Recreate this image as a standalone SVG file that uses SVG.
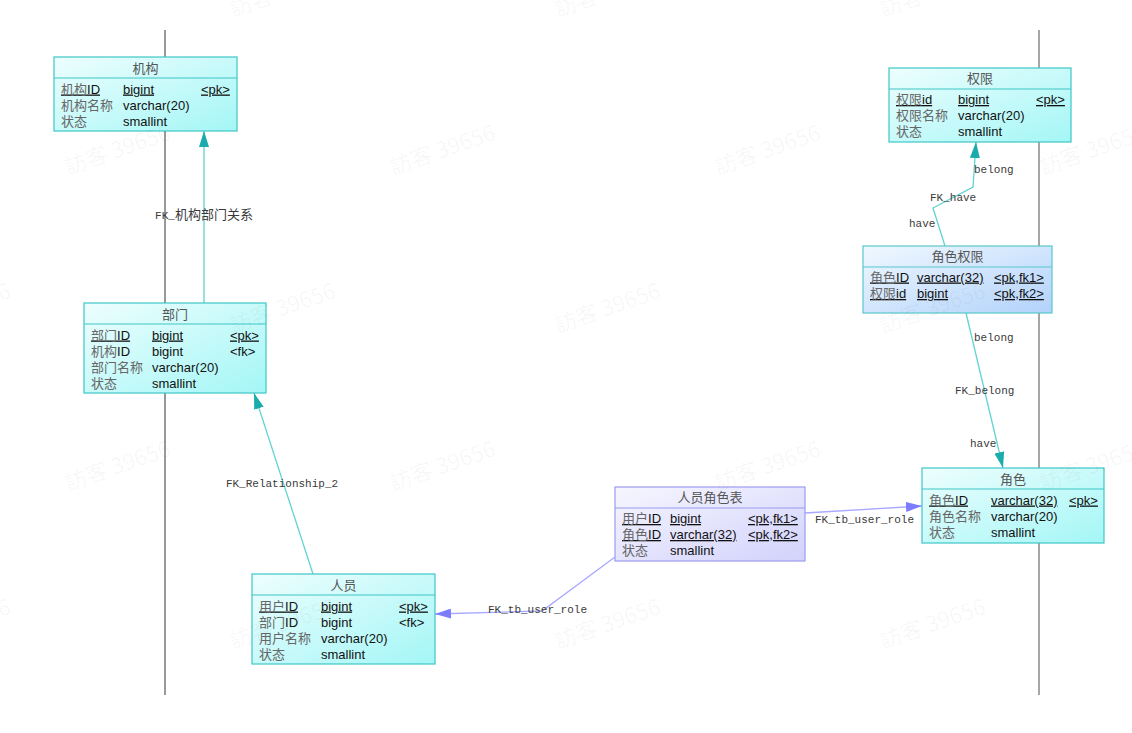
<svg xmlns="http://www.w3.org/2000/svg" width="1132" height="733" viewBox="0 0 1132 733">
<style>
.t{font-family:"Liberation Sans","Noto Sans CJK SC",sans-serif;font-size:13px;fill:#111}
.cn{fill:#666}
.ttl{font-family:"Noto Sans CJK SC",sans-serif;font-size:13px;fill:#555;text-anchor:middle}
.u{text-decoration:underline}
.lbl{font-family:"Liberation Mono","Noto Sans CJK SC",monospace;font-size:11px;fill:#3a3a3a}
.lc{font-size:13px}
.wm{font-family:"Noto Sans CJK SC",sans-serif;font-size:22px;fill:#000;fill-opacity:0.04}
.cy{fill:url(#gc);stroke:#3fc6c6;stroke-width:1.2}
.lv{fill:url(#gl);stroke:#9c9cee;stroke-width:1.2}
.bl{fill:url(#gb);stroke:#58c8cc;stroke-width:1.2}
.hc{stroke:#3fc6c6;stroke-width:1.2}
.hl{stroke:#9c9cee;stroke-width:1.2}
.hb{stroke:#58c8cc;stroke-width:1.2}
.ct{fill:none;stroke:#62d2d2;stroke-width:1.3}
.cl{fill:none;stroke:#a8a8ff;stroke-width:1.3}
</style>
<defs>
<linearGradient id="gc" x1="0" y1="0" x2="1" y2="1"><stop offset="0" stop-color="#eefefe"/><stop offset="1" stop-color="#a4f6f6"/></linearGradient>
<linearGradient id="gl" x1="0" y1="0" x2="1" y2="1"><stop offset="0" stop-color="#f6f6ff"/><stop offset="1" stop-color="#d2d2fc"/></linearGradient>
<linearGradient id="gb" x1="0" y1="0" x2="1" y2="1"><stop offset="0" stop-color="#f0f8ff"/><stop offset="1" stop-color="#b2d2fa"/></linearGradient>
<marker id="at" markerWidth="16" markerHeight="10" refX="16" refY="5" orient="auto" markerUnits="userSpaceOnUse"><path d="M0,0 L16,5 L0,10 z" fill="#1aacac"/></marker>
<marker id="al" markerWidth="16" markerHeight="10" refX="16" refY="5" orient="auto" markerUnits="userSpaceOnUse"><path d="M0,0 L16,5 L0,10 z" fill="#7c7cff"/></marker>
</defs>
<rect width="1132" height="733" fill="#fff"/>
<g id="swimlanes">
<line x1="165" y1="30" x2="165" y2="695" stroke="#333" stroke-width="1"/>
<line x1="1039" y1="30" x2="1039" y2="695" stroke="#888" stroke-width="1.5"/>
</g>
<g id="connectors">
<path class="ct" d="M204,303 L204,131" marker-end="url(#at)"/>
<text class="lbl" x="204" y="219" text-anchor="middle">FK_<tspan class="lc">机构部门关系</tspan></text>
<path class="ct" d="M313,574 L254,393" marker-end="url(#at)"/>
<text class="lbl" x="282" y="487" text-anchor="middle">FK_Relationship_2</text>
<path class="cl" d="M615,557 L542,611 L435,614" marker-end="url(#al)"/>
<text class="lbl" x="488" y="613">FK_tb_user_role</text>
<path class="cl" d="M805,513 L922,506" marker-end="url(#al)"/>
<text class="lbl" x="815" y="523">FK_tb_user_role</text>
<path class="ct" d="M945,246 L933,208 L973,187 L976,142" marker-end="url(#at)"/>
<text class="lbl" x="974" y="173">belong</text>
<text class="lbl" x="930" y="201">FK_have</text>
<text class="lbl" x="909" y="227">have</text>
<path class="ct" d="M966,313 L1003,468" marker-end="url(#at)"/>
<text class="lbl" x="974" y="341">belong</text>
<text class="lbl" x="955" y="394">FK_belong</text>
<text class="lbl" x="970" y="447">have</text>
</g>
<g id="jigou">
<rect class="cy" x="54" y="57" width="183" height="74"/>
<line class="hc" x1="54" y1="78" x2="237" y2="78"/>
<text class="ttl" x="145.5" y="72.5">机构</text>
<text class="t u" x="61" y="93.5"><tspan class="cn">机构</tspan>ID</text><text class="t u" x="123" y="93.5">bigint</text><text class="t u" x="201" y="93.5">&lt;pk&gt;</text>
<text class="t" x="61" y="109.5"><tspan class="cn">机构名称</tspan></text><text class="t" x="123" y="109.5">varchar(20)</text>
<text class="t" x="61" y="125.5"><tspan class="cn">状态</tspan></text><text class="t" x="123" y="125.5">smallint</text>
</g>
<g id="bumen">
<rect class="cy" x="84" y="303" width="182" height="90"/>
<line class="hc" x1="84" y1="324" x2="266" y2="324"/>
<text class="ttl" x="175" y="318.5">部门</text>
<text class="t u" x="91" y="339.5"><tspan class="cn">部门</tspan>ID</text><text class="t u" x="152" y="339.5">bigint</text><text class="t u" x="230" y="339.5">&lt;pk&gt;</text>
<text class="t" x="91" y="355.5"><tspan class="cn">机构</tspan>ID</text><text class="t" x="152" y="355.5">bigint</text><text class="t" x="230" y="355.5">&lt;fk&gt;</text>
<text class="t" x="91" y="371.5"><tspan class="cn">部门名称</tspan></text><text class="t" x="152" y="371.5">varchar(20)</text>
<text class="t" x="91" y="387.5"><tspan class="cn">状态</tspan></text><text class="t" x="152" y="387.5">smallint</text>
</g>
<g id="renyuan">
<rect class="cy" x="252" y="574" width="183" height="90"/>
<line class="hc" x1="252" y1="595" x2="435" y2="595"/>
<text class="ttl" x="343.5" y="589.5">人员</text>
<text class="t u" x="259" y="610.5"><tspan class="cn">用户</tspan>ID</text><text class="t u" x="321" y="610.5">bigint</text><text class="t u" x="399" y="610.5">&lt;pk&gt;</text>
<text class="t" x="259" y="626.5"><tspan class="cn">部门</tspan>ID</text><text class="t" x="321" y="626.5">bigint</text><text class="t" x="399" y="626.5">&lt;fk&gt;</text>
<text class="t" x="259" y="642.5"><tspan class="cn">用户名称</tspan></text><text class="t" x="321" y="642.5">varchar(20)</text>
<text class="t" x="259" y="658.5"><tspan class="cn">状态</tspan></text><text class="t" x="321" y="658.5">smallint</text>
</g>
<g id="renyuanjuese">
<rect class="lv" x="615" y="487" width="190" height="74"/>
<line class="hl" x1="615" y1="508" x2="805" y2="508"/>
<text class="ttl" x="710" y="502">人员角色表</text>
<text class="t u" x="622" y="523"><tspan class="cn">用户</tspan>ID</text><text class="t u" x="670" y="523">bigint</text><text class="t u" x="748" y="523">&lt;pk,fk1&gt;</text>
<text class="t u" x="622" y="539"><tspan class="cn">角色</tspan>ID</text><text class="t u" x="670" y="539">varchar(32)</text><text class="t u" x="748" y="539">&lt;pk,fk2&gt;</text>
<text class="t" x="622" y="555"><tspan class="cn">状态</tspan></text><text class="t" x="670" y="555">smallint</text>
</g>
<g id="quanxian">
<rect class="cy" x="889" y="68" width="182" height="74"/>
<line class="hc" x1="889" y1="89" x2="1071" y2="89"/>
<text class="ttl" x="980" y="83">权限</text>
<text class="t u" x="896" y="104"><tspan class="cn">权限</tspan>id</text><text class="t u" x="958" y="104">bigint</text><text class="t u" x="1036" y="104">&lt;pk&gt;</text>
<text class="t" x="896" y="120"><tspan class="cn">权限名称</tspan></text><text class="t" x="958" y="120">varchar(20)</text>
<text class="t" x="896" y="136"><tspan class="cn">状态</tspan></text><text class="t" x="958" y="136">smallint</text>
</g>
<g id="juesequanxian">
<rect class="bl" x="863" y="246" width="189" height="67"/>
<line class="hb" x1="863" y1="267" x2="1052" y2="267"/>
<text class="ttl" x="957.5" y="261">角色权限</text>
<text class="t u" x="870" y="281.5"><tspan class="cn">角色</tspan>ID</text><text class="t u" x="917" y="281.5">varchar(32)</text><text class="t u" x="994" y="281.5">&lt;pk,fk1&gt;</text>
<text class="t u" x="870" y="298"><tspan class="cn">权限</tspan>id</text><text class="t u" x="917" y="298">bigint</text><text class="t u" x="994" y="298">&lt;pk,fk2&gt;</text>
</g>
<g id="juese">
<rect class="cy" x="922" y="468" width="182" height="75"/>
<line class="hc" x1="922" y1="489" x2="1104" y2="489"/>
<text class="ttl" x="1013" y="483.5">角色</text>
<text class="t u" x="929" y="504.5"><tspan class="cn">角色</tspan>ID</text><text class="t u" x="991" y="504.5">varchar(32)</text><text class="t u" x="1069" y="504.5">&lt;pk&gt;</text>
<text class="t" x="929" y="520.5"><tspan class="cn">角色名称</tspan></text><text class="t" x="991" y="520.5">varchar(20)</text>
<text class="t" x="929" y="536.5"><tspan class="cn">状态</tspan></text><text class="t" x="991" y="536.5">smallint</text>
</g>
<g id="watermarks">
<text class="wm" transform="translate(233,17) rotate(-19)">訪客 39656</text>
<text class="wm" transform="translate(558,17) rotate(-19)">訪客 39656</text>
<text class="wm" transform="translate(883,17) rotate(-19)">訪客 39656</text>
<text class="wm" transform="translate(68,175) rotate(-19)">訪客 39656</text>
<text class="wm" transform="translate(393,175) rotate(-19)">訪客 39656</text>
<text class="wm" transform="translate(718,175) rotate(-19)">訪客 39656</text>
<text class="wm" transform="translate(1043,175) rotate(-19)">訪客 39656</text>
<text class="wm" transform="translate(-92,333) rotate(-19)">訪客 39656</text>
<text class="wm" transform="translate(233,333) rotate(-19)">訪客 39656</text>
<text class="wm" transform="translate(558,333) rotate(-19)">訪客 39656</text>
<text class="wm" transform="translate(883,333) rotate(-19)">訪客 39656</text>
<text class="wm" transform="translate(68,491) rotate(-19)">訪客 39656</text>
<text class="wm" transform="translate(393,491) rotate(-19)">訪客 39656</text>
<text class="wm" transform="translate(718,491) rotate(-19)">訪客 39656</text>
<text class="wm" transform="translate(1043,491) rotate(-19)">訪客 39656</text>
<text class="wm" transform="translate(-92,649) rotate(-19)">訪客 39656</text>
<text class="wm" transform="translate(233,649) rotate(-19)">訪客 39656</text>
<text class="wm" transform="translate(558,649) rotate(-19)">訪客 39656</text>
<text class="wm" transform="translate(883,649) rotate(-19)">訪客 39656</text>
</g>
</svg>
